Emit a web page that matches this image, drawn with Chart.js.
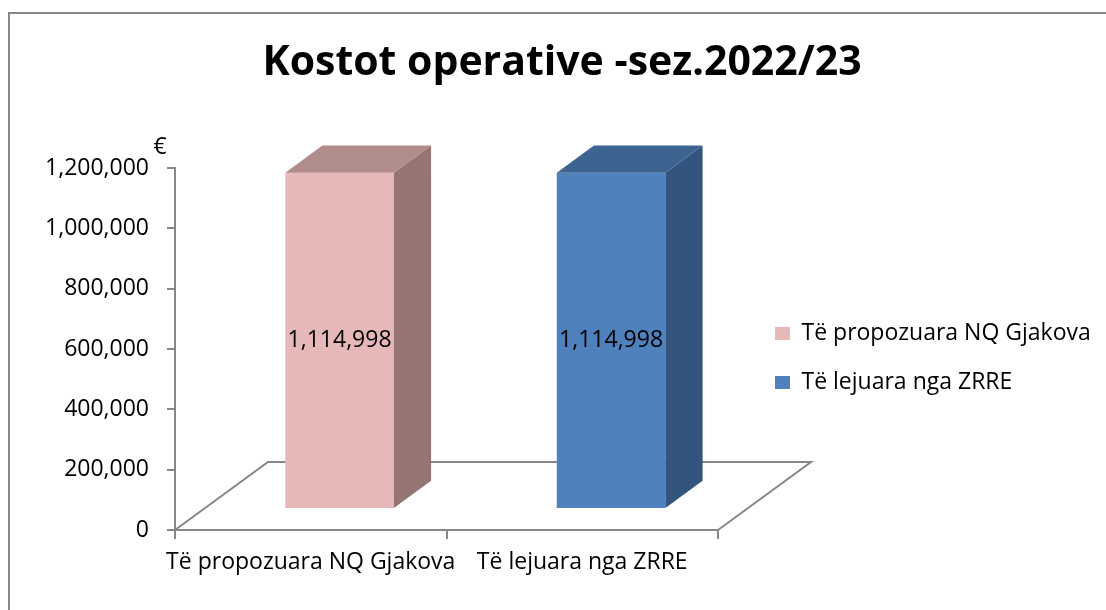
<!DOCTYPE html>
<html>
<head>
<meta charset="utf-8">
<script src="https://cdn.jsdelivr.net/npm/chart.js@4.4.0/dist/chart.umd.min.js"></script>
<style>
html, body { margin: 0; padding: 0; background: #fff; }
#wrap { width: 1106px; height: 610px; position: relative; }
</style>
</head>
<body>
<div id="wrap"><canvas id="barChart"></canvas></div>
<script>
// data
var categories = ["Të propozuara NQ Gjakova", "Të lejuara nga ZRRE"];
var seriesNames = ["Të propozuara NQ Gjakova", "Të lejuara nga ZRRE"];
var proposedValues = [1114998, null];
var allowedValues = [null, 1114998];
var yTicks = [0, 200000, 400000, 600000, 800000, 1000000, 1200000];
var chartTitle = "Kostot operative -sez.2022/23";
var unitLabel = "€";

// look
var fontFamily = "'Open Sans', sans-serif";
var axisColor = '#878787';
var frontColors = ['#E6B9B8', '#4F81BD'];
var topColors = ['#B08C8A', '#3D6491'];
var sideColors = ['#957573', '#33547C'];

// fake 3d: floor depth and where the bars sit in it
var depthX = 93, depthY = -68;
var barFront = 0.31, barDepth = 0.4;
// excel puts the legend close to the plot, chart.js would push it to the edge
var plotRight = 718, legendLeft = 749, legendTop = 296;

var depth3d = {
    id: 'depth3d',
    beforeDraw: function (chart) {
        var ctx = chart.ctx;
        ctx.save();
        ctx.fillStyle = '#fff';
        ctx.fillRect(0, 0, chart.width, chart.height);
        ctx.strokeStyle = axisColor;
        ctx.lineWidth = 2;
        ctx.strokeRect(9, 13, chart.width + 20, chart.height + 20);
        ctx.restore();
    },
    afterLayout: function (chart) {
        var xs = chart.scales.x, a = chart.chartArea, lg = chart.legend;
        xs.right = plotRight;
        xs.width = plotRight - xs.left;
        xs.configure();
        a.right = plotRight;
        a.width = plotRight - a.left;
        // the legend clips to its own box, so give it the rest of the width
        lg.left = legendLeft;
        lg.right = chart.width;
        lg.width = chart.width - legendLeft;
        lg.top = legendTop;
        lg.bottom = legendTop + lg.height;
    },
    beforeDatasetsDraw: function (chart) {
        var ctx = chart.ctx, a = chart.chartArea;
        ctx.save();
        ctx.strokeStyle = axisColor;
        ctx.lineWidth = 2;
        ctx.beginPath();
        ctx.moveTo(a.left, a.bottom);
        ctx.lineTo(a.left + depthX, a.bottom + depthY);
        ctx.lineTo(a.right + depthX, a.bottom + depthY);
        ctx.lineTo(a.right, a.bottom);
        ctx.stroke();
        ctx.fillStyle = '#000';
        ctx.font = '23px ' + fontFamily;
        ctx.textAlign = 'center';
        ctx.textBaseline = 'middle';
        ctx.fillText(unitLabel, a.left - 15, a.top - 21);
        ctx.restore();
        ctx.save();
        ctx.translate(depthX * barFront, depthY * barFront);
    },
    afterDatasetsDraw: function (chart) {
        var ctx = chart.ctx;
        ctx.restore();
        var ox = depthX * barFront, oy = depthY * barFront;
        var dx = depthX * barDepth, dy = depthY * barDepth;
        chart.data.datasets.forEach(function (ds, i) {
            var meta = chart.getDatasetMeta(i);
            meta.data.forEach(function (bar, j) {
                if (ds.data[j] == null) return;
                var p = bar.getProps(['x', 'y', 'base', 'width'], true);
                var l = p.x - p.width / 2 + ox, r = p.x + p.width / 2 + ox;
                var t = p.y + oy, b = p.base + oy;
                ctx.save();
                ctx.fillStyle = sideColors[i];
                ctx.beginPath();
                ctx.moveTo(r, t);
                ctx.lineTo(r + dx, t + dy);
                ctx.lineTo(r + dx, b + dy);
                ctx.lineTo(r, b);
                ctx.closePath();
                ctx.fill();
                ctx.fillStyle = topColors[i];
                ctx.beginPath();
                ctx.moveTo(l, t);
                ctx.lineTo(l + dx, t + dy);
                ctx.lineTo(r + dx, t + dy);
                ctx.lineTo(r, t);
                ctx.closePath();
                ctx.fill();
                ctx.fillStyle = '#000';
                ctx.font = '23px ' + fontFamily;
                ctx.textAlign = 'center';
                ctx.textBaseline = 'middle';
                ctx.fillText(ds.data[j].toLocaleString('en-US'), (l + r) / 2, (t + b) / 2);
                ctx.restore();
            });
        });
    }
};

var ctxB = document.getElementById("barChart").getContext('2d');
var myBarChart = new Chart(ctxB, {
    type: 'bar',
    data: {
        labels: categories,
        datasets: [{
                label: seriesNames[0],
                data: proposedValues,
                backgroundColor: frontColors[0],
                borderWidth: 0,
                clip: false
            }, {
                label: seriesNames[1],
                data: allowedValues,
                backgroundColor: frontColors[1],
                borderWidth: 0,
                clip: false
            }
        ]
    },
    options: {
        responsive: true,
        maintainAspectRatio: false,
        animation: false,
        skipNull: true,
        categoryPercentage: 0.4,
        barPercentage: 1.0,
        layout: { padding: { left: 18, right: 0, top: 0, bottom: 0 } },
        plugins: {
            title: {
                display: true,
                text: chartTitle,
                color: '#000',
                font: { family: fontFamily, size: 41, weight: 'bold' },
                padding: { top: 39, bottom: 80 }
            },
            legend: {
                position: 'right',
                align: 'start',
                labels: {
                    color: '#000',
                    font: { family: fontFamily, size: 23 },
                    boxWidth: 15,
                    boxHeight: 13,
                    padding: 26
                }
            },
            tooltip: { enabled: false }
        },
        scales: {
            x: {
                grid: { drawOnChartArea: false, drawTicks: true, tickLength: 9, color: axisColor, lineWidth: 2, offset: true },
                border: { color: axisColor, width: 2 },
                ticks: { color: '#000', font: { family: fontFamily, size: 23 }, padding: 10, maxRotation: 0, minRotation: 0, autoSkip: false },
                afterFit: function (s) { s.height = 80; }
            },
            y: {
                min: 0,
                max: 1200000,
                grid: { drawOnChartArea: false, drawTicks: true, tickLength: 8, color: axisColor, lineWidth: 2 },
                border: { color: axisColor, width: 2 },
                ticks: { color: '#000', font: { family: fontFamily, size: 23 }, padding: 18 },
                afterBuildTicks: function (s) { s.ticks = yTicks.map(function (v) { return { value: v }; }); },
                afterFit: function (s) { s.width = 157; }
            }
        }
    },
    plugins: [depth3d]
});
</script>
</body>
</html>
